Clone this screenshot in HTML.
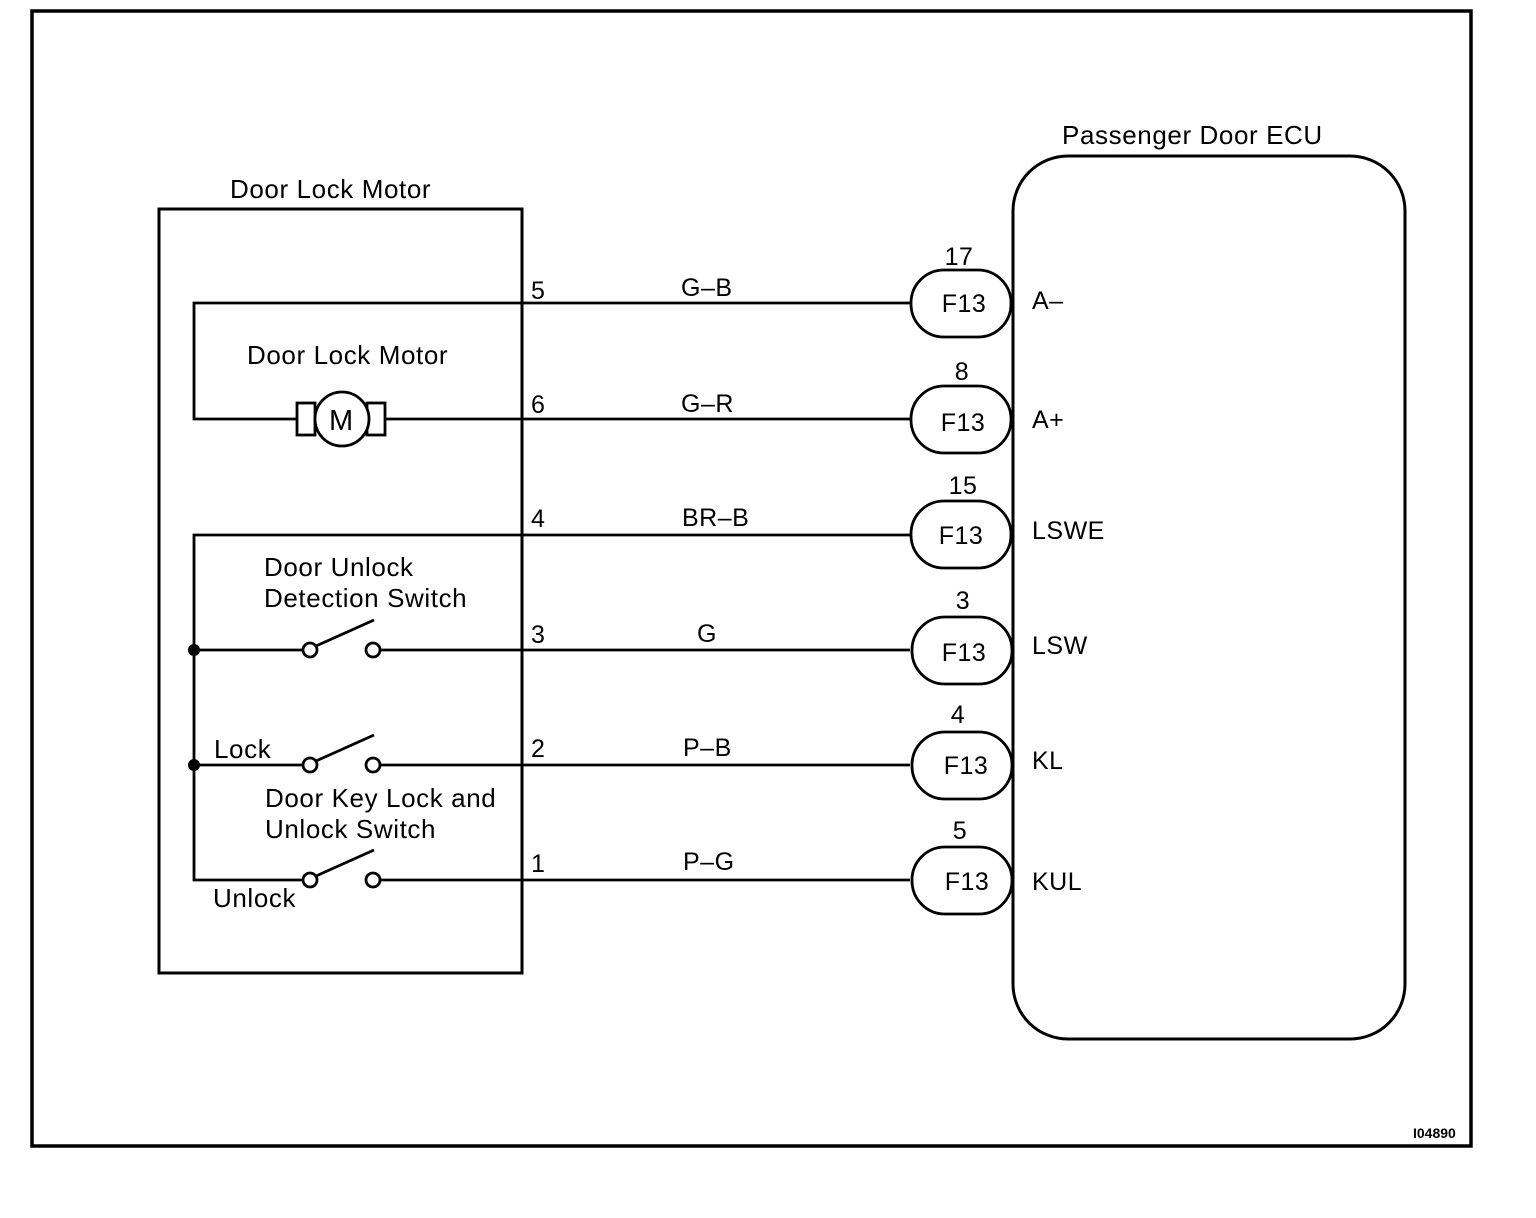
<!DOCTYPE html>
<html><head><meta charset="utf-8"><style>
html,body{margin:0;padding:0;background:#fff;}
svg{display:block;}
text{font-family:"Liberation Sans",Arial,sans-serif;fill:#000;}
</style></head><body>
<svg width="1536" height="1218" viewBox="0 0 1536 1218" xmlns="http://www.w3.org/2000/svg">
<rect x="0" y="0" width="1536" height="1218" fill="#fff"/>
<rect x="32" y="11" width="1439" height="1135" fill="none" stroke="#000" stroke-width="3.5"/>
<rect x="159" y="209" width="363" height="764" fill="none" stroke="#000" stroke-width="3"/>
<rect x="1013" y="156" width="392" height="883" rx="55" ry="55" fill="none" stroke="#000" stroke-width="3"/>
<g fill="none" stroke="#000" stroke-width="2.8">
<path d="M910 303 H194 V419 H297"/>
<path d="M385 419 H910"/>
<rect x="297" y="403" width="18" height="32"/>
<rect x="367" y="403" width="18" height="32"/>
<circle cx="342" cy="419" r="27" fill="#fff"/>
<path d="M910 535 H194 V880 H303"/>
<path d="M194 650 H303"/>
<path d="M194 765 H303"/>
<path d="M380 650 H910"/><path d="M380 765 H910"/><path d="M380 880 H910"/>
<circle cx="310" cy="650" r="7"/><circle cx="373" cy="650" r="7"/>
<circle cx="310" cy="765" r="7"/><circle cx="373" cy="765" r="7"/>
<circle cx="310" cy="880" r="7"/><circle cx="373" cy="880" r="7"/>
<path d="M316 646 L374 620"/><path d="M316 761 L374 735"/><path d="M316 876 L374 850"/>
<rect x="911" y="270" width="100" height="67" rx="33" ry="33"/>
<rect x="911" y="386" width="100" height="67" rx="33" ry="33"/>
<rect x="911" y="501" width="100" height="67" rx="33" ry="33"/>
<rect x="912" y="617" width="100" height="67" rx="33" ry="33"/>
<rect x="912" y="732" width="100" height="67" rx="33" ry="33"/>
<rect x="912" y="847" width="100" height="67" rx="33" ry="33"/>
</g>
<circle cx="194" cy="650" r="6" fill="#000"/>
<circle cx="194" cy="765" r="6" fill="#000"/>
<g font-size="26" letter-spacing="0.6">
<text x="230" y="198">Door Lock Motor</text>
<text x="1062" y="144">Passenger Door ECU</text>
<text x="247" y="364">Door Lock Motor</text>
<text x="264" y="576">Door Unlock</text>
<text x="264" y="607">Detection Switch</text>
<text x="214" y="758">Lock</text>
<text x="265" y="807">Door Key Lock and</text>
<text x="265" y="838">Unlock Switch</text>
<text x="213" y="907">Unlock</text>
<text x="329" y="430" font-size="29" letter-spacing="0">M</text>
</g>
<g font-size="25" letter-spacing="0.5">
<text x="531" y="299">5</text><text x="681" y="296">G–B</text>
<text x="531" y="413">6</text><text x="681" y="412">G–R</text>
<text x="531" y="527">4</text><text x="682" y="526">BR–B</text>
<text x="531" y="643">3</text><text x="697" y="642">G</text>
<text x="531" y="757">2</text><text x="683" y="756">P–B</text>
<text x="531" y="872">1</text><text x="683" y="870">P–G</text>
</g>
<g font-size="25" text-anchor="middle" letter-spacing="0.5">
<text x="959" y="265">17</text><text x="964" y="312">F13</text>
<text x="962" y="380">8</text><text x="963" y="431">F13</text>
<text x="963" y="494">15</text><text x="961" y="544">F13</text>
<text x="963" y="609">3</text><text x="964" y="661">F13</text>
<text x="958" y="723">4</text><text x="966" y="774">F13</text>
<text x="960" y="839">5</text><text x="967" y="890">F13</text>
</g>
<g font-size="25" letter-spacing="0.5">
<text x="1032" y="309">A–</text>
<text x="1032" y="428">A+</text>
<text x="1032" y="539">LSWE</text>
<text x="1032" y="654">LSW</text>
<text x="1032" y="769">KL</text>
<text x="1032" y="890">KUL</text>
</g>
<text x="1413" y="1138" font-size="14" font-weight="bold">I04890</text>
</svg>
</body></html>
